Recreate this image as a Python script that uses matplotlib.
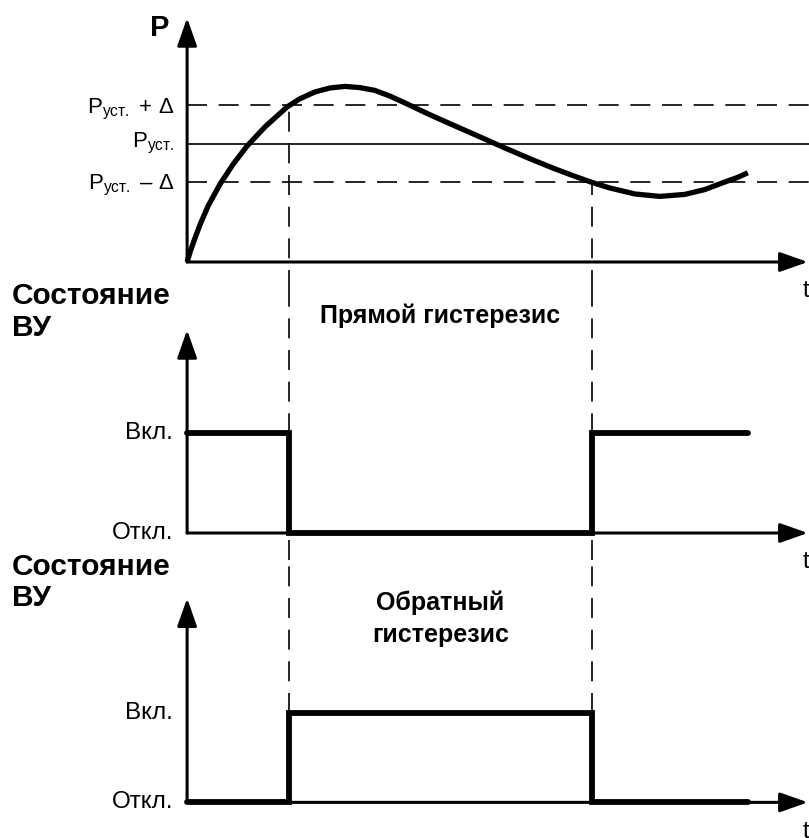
import matplotlib.pyplot as plt

plt.rcParams['font.family'] = ['Liberation Sans', 'DejaVu Sans']
plt.rcParams['mathtext.fontset'] = 'custom'
plt.rcParams['mathtext.rm'] = 'Liberation Sans'

# P(t)
t_curve = [0.00, 0.05, 0.12, 0.22, 0.35, 0.55, 0.77, 1.00, 1.30, 1.67, 1.88, 2.13, 2.38, 2.63, 2.88,
           3.13, 3.38, 3.67, 4.05, 4.47, 4.88, 5.30, 5.72, 6.13, 6.47, 6.75, 7.05, 7.47, 7.88, 8.30,
           8.63, 8.93, 9.17, 9.35]
p_curve = [0.00, 0.25, 0.55, 0.95, 1.40, 1.95, 2.45, 2.90, 3.38, 3.88, 4.08, 4.25, 4.35, 4.39, 4.36,
           4.29, 4.15, 3.95, 3.68, 3.40, 3.13, 2.85, 2.58, 2.33, 2.14, 1.99, 1.85, 1.70, 1.64, 1.69,
           1.81, 1.98, 2.11, 2.23]

p_set = 2.96
delta = 0.97

# switching moments and relay states
t_steps = [0.0, 1.70, 6.75, 9.35]
direct = [1, 0, 1, 1]
reverse = [0, 1, 0, 0]
t_switch = t_steps[1:3]

p_labels = [r'P$_{\mathregular{уст.}}$ + Δ', r'P$_{\mathregular{уст.}}$', r'P$_{\mathregular{уст.}}$ – Δ']
state_labels = ['Вкл.', 'Откл.']
titles = ['Прямой гистерезис', 'Обратный\nгистерезис']

X_LIM = (-3.12, 10.37)
X_TIP = 10.35
DASH = (0, (12, 7))

fig = plt.figure(figsize=(8.09, 8.38), dpi=100)


def band(top, bottom):
    # axes rect from pixel rows of the 838 px high figure
    return [0, 1 - bottom / 838, 1, (bottom - top) / 838]


def arrow(ax, start, tip):
    ax.annotate('', xy=tip, xytext=start,
                arrowprops=dict(arrowstyle='-|>,head_length=1.7,head_width=0.6', mutation_scale=10,
                                lw=2.2, color='k', shrinkA=0, shrinkB=0))


def axes_arrows(ax, y_tip):
    arrow(ax, (0, 0), (0, y_tip))
    arrow(ax, (0, 0), (X_TIP, 0))
    ax.annotate('t', xy=(X_TIP, 0), xytext=(-4, -21), textcoords='offset points',
                ha='left', va='center', fontsize=17)


ax_p = fig.add_axes(band(0, 290))
ax_d = fig.add_axes(band(290, 560))
ax_r = fig.add_axes(band(560, 838))
for ax in (ax_p, ax_d, ax_r):
    ax.set_xlim(*X_LIM)
    ax.axis('off')
ax_p.set_ylim(-0.70, 6.55)
ax_d.set_ylim(-0.27, 2.43)
ax_r.set_ylim(-0.40, 2.72)

# top panel: pressure
levels = [p_set + delta, p_set, p_set - delta]
ax_p.hlines([levels[0], levels[2]], 0, X_LIM[1], colors='k', lw=1.2, linestyles=DASH)
ax_p.hlines(levels[1], 0, X_LIM[1], colors='k', lw=1.2)
ax_p.plot(t_curve, p_curve, color='k', lw=3.8, solid_joinstyle='round', solid_capstyle='butt')
ax_p.vlines(t_switch[0], -0.70, levels[0], colors='k', lw=1.2, linestyles=DASH)
ax_p.vlines(t_switch[1], -0.70, levels[2], colors='k', lw=1.2, linestyles=DASH)
axes_arrows(ax_p, 6.1)
ax_p.text(-0.3, 5.85, 'P', ha='right', va='center', fontsize=21, fontweight='bold')
for lab, lev, dy in zip(p_labels, levels, [-6, -3, -5]):
    ax_p.annotate(lab, xy=(0, lev), xytext=(-9, dy), textcoords='offset points',
                  ha='right', va='baseline', fontsize=16)

# relay panels; in the lower one the dashed lines stop at the "on" level
for ax, state, y_tip, title, ty, y_dash in [(ax_d, direct, 2.03, titles[0], 2.17, -0.27),
                                            (ax_r, reverse, 2.29, titles[1], 2.06, 1)]:
    ax.vlines(t_switch, y_dash, ax.get_ylim()[1], colors='k', lw=1.2, linestyles=DASH, zorder=1)
    ax.step(t_steps, state, where='post', color='k', lw=4.2, solid_joinstyle='miter',
            solid_capstyle='round', zorder=3)
    axes_arrows(ax, y_tip)
    for lab, lev in zip(state_labels, [1, 0]):
        ax.annotate(lab, xy=(0, lev), xytext=(-10, 0), textcoords='offset points',
                    ha='right', va='center', fontsize=17.5)
    ax.text(-2.92, y_tip + 0.18, 'Состояние\nВУ', ha='left', va='center', fontsize=21.5,
            fontweight='bold', linespacing=1.15)
    ax.text(sum(t_switch) / 2, ty, title, ha='center', va='center', fontsize=18,
            fontweight='bold', linespacing=1.4)

fig.savefig('out.png', dpi=100)
